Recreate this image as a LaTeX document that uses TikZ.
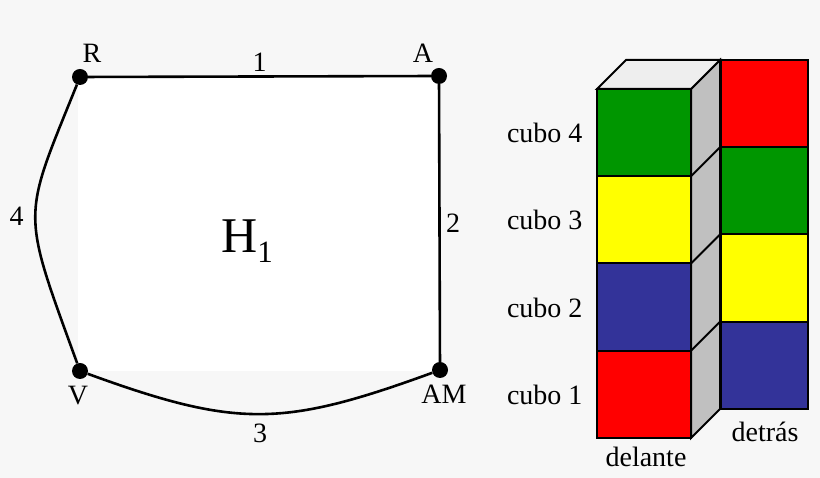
\documentclass[tikz,border=0pt]{standalone}
\usepackage{fontspec}
\setmainfont{Liberation Serif}
\usetikzlibrary{calc}
\definecolor{bggray}{HTML}{F7F7F7}
\definecolor{cubegreen}{RGB}{0,150,0}
\definecolor{cubeblue}{RGB}{51,51,153}
\definecolor{cubered}{RGB}{255,0,0}
\definecolor{cubeyellow}{RGB}{255,255,0}
\definecolor{sidegray}{RGB}{192,192,192}
\definecolor{topgray}{RGB}{238,238,238}
\tikzstyle{vertex}=[shape=circle, minimum size=16pt, inner sep=0, fill]
\tikzstyle{edge}=[line width=2.6pt]
\tikzstyle{cubeline}=[line width=2pt, line join=miter]
\newcommand{\frontcube}[2]{\draw[cubeline, fill=#2] (597,#1) rectangle ++(94,87.25);}
\newcommand{\backcube}[2]{\draw[cubeline, fill=#2] (721,#1) rectangle ++(87,87.25);}
\newcommand{\cubolabel}[2]{\node[anchor=east] (cubo#2) at (586,#1) {cubo #2};}

\begin{document}
\begin{tikzpicture}[x=1pt, y=1pt, font=\fontsize{28}{33}\selectfont]
\fill[bggray] (0,0) rectangle (820,478);
\useasboundingbox (0,0) rectangle (820,478);
\fill[white] (78,107) rectangle (439,402);
% graph
\node[vertex, label={[label distance=3pt, xshift=12pt]above:R}] (R) at (80,401) {};
\node[vertex, label={[label distance=2pt, xshift=-16pt]above:A}] (A) at (439,402) {};
\node[vertex, label={[label distance=3pt, xshift=4pt]below:AM}] (AM) at (440,108) {};
\node[vertex, label={[label distance=3pt, xshift=-2pt]below:V}] (V) at (80,107) {};
\draw[edge] (R) -- node[above]{1} (A);
\draw[edge] (A) -- node[right, xshift=2pt]{2} (AM);
\draw[edge] (AM) to[out=-160, in=-20, looseness=1.18] node[below, yshift=-5pt]{3} (V);
\draw[edge] (V) to[out=110, in=-112, out looseness=1.52, in looseness=1.35] node[left, xshift=-7pt]{4} (R);
\node[anchor=base west, inner sep=0, font=\fontsize{50}{52}\selectfont] (H1) at (221,225) {H\raisebox{-10pt}{\fontsize{31}{31}\selectfont 1}};
% cubes
\draw[cubeline, fill=sidegray] (691,40) -- (720,69) -- (720,418) -- (691,389) -- cycle;
\foreach \y in {127.25,214.5,301.75} \draw[cubeline] (691,\y) -- ++(29,29);
\backcube{69}{cubeblue}
\backcube{156.25}{cubeyellow}
\backcube{243.5}{cubegreen}
\backcube{330.75}{cubered}
\frontcube{40}{cubered}
\frontcube{127.25}{cubeblue}
\frontcube{214.5}{cubeyellow}
\frontcube{301.75}{cubegreen}
\draw[cubeline, fill=topgray] (597,389) -- (626,418) -- (720,418) -- (691,389) -- cycle;
\cubolabel{345}{4}
\cubolabel{258}{3}
\cubolabel{170.5}{2}
\cubolabel{83.5}{1}
\node (delante) at (646,21) {delante};
\node (detras) at (765,46) {detrás};
\end{tikzpicture}
\end{document}
